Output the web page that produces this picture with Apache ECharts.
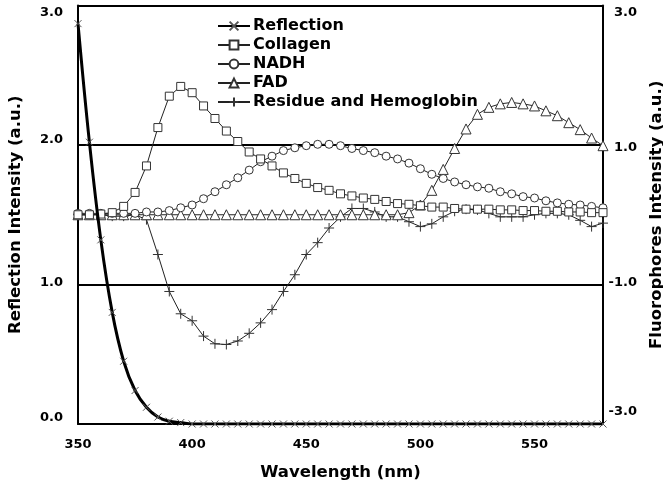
<!DOCTYPE html>
<html>
<head>
<meta charset="utf-8">
<script src="https://cdn.jsdelivr.net/npm/echarts@6/dist/echarts.min.js"></script>
<style>html,body{margin:0;padding:0;background:#fff}#c{width:663px;height:489px}</style>
</head>
<body>
<div id="c"></div>
<script>
var wavelengths = [350,355,360,365,370,375,380,385,390,395,400,405,410,415,420,425,430,435,440,445,450,455,460,465,470,475,480,485,490,495,500,505,510,515,520,525,530,535,540,545,550,555,560,565,570,575,580];
var reflection = [2.87,2.02,1.32,0.80,0.45,0.24,0.12,0.05,0.02,0.01,0,0,0,0,0,0,0,0,0,0,0,0,0,0,0,0,0,0,0,0,0,0,0,0,0,0,0,0,0,0,0,0,0,0,0,0,0];
var collagen = [0.00,0.00,0.01,0.03,0.12,0.32,0.70,1.25,1.70,1.84,1.75,1.56,1.38,1.20,1.05,0.90,0.80,0.70,0.60,0.52,0.45,0.39,0.35,0.30,0.27,0.24,0.22,0.19,0.16,0.15,0.13,0.11,0.11,0.09,0.08,0.08,0.08,0.07,0.07,0.06,0.06,0.05,0.05,0.04,0.04,0.03,0.03];
var nadh = [0.02,0.02,0.02,0.02,0.02,0.02,0.04,0.04,0.06,0.10,0.14,0.23,0.33,0.43,0.53,0.64,0.76,0.84,0.92,0.96,0.99,1.01,1.01,0.99,0.95,0.92,0.89,0.84,0.80,0.74,0.66,0.58,0.52,0.47,0.43,0.40,0.38,0.33,0.30,0.26,0.24,0.20,0.17,0.15,0.14,0.12,0.10];
var fad = [0,0,0,0,0,0,0,0,0,0,0,0,0,0,0,0,0,0,0,0,0,0,0,0,0,0,0,0,0.00,0.03,0.14,0.35,0.65,0.95,1.23,1.44,1.54,1.59,1.61,1.59,1.56,1.49,1.42,1.32,1.22,1.10,0.99];
var residue = [0.00,0.00,0.00,-0.02,-0.02,0.00,-0.07,-0.57,-1.10,-1.42,-1.52,-1.74,-1.85,-1.86,-1.81,-1.70,-1.55,-1.36,-1.10,-0.86,-0.57,-0.40,-0.19,-0.03,0.09,0.09,0.04,-0.03,-0.03,-0.10,-0.17,-0.13,-0.03,0.05,0.08,0.07,0.02,-0.03,-0.03,-0.03,0.00,0.02,0.02,0.00,-0.08,-0.17,-0.12];
var seriesNames = ['Reflection','Collagen','NADH','FAD','Residue and Hemoglobin'];
var xTicks = [350,400,450,500,550];
var leftTicks = [0,1,2,3];
var rightTicks = [-3,-1,1,3];

function pairs(vals){ return wavelengths.map(function(w,i){ return [w, vals[i]]; }); }
var WIDE = "'DejaVu Sans', sans-serif";
var PLUS = 'path://M0,5L10,5M5,0L5,10';
var CROSS = 'path://M0,0L10,10M10,0L0,10';

function tok(pad){ return {padding: pad, fontFamily: WIDE, fontWeight: 'bold', fontSize: 13, color: '#000'}; }
var labelRich = {
  d14: tok([14,0,0,0]),
  d6: tok([6,0,0,0]),
  u4: tok([0,0,4,0]),
  u10: tok([0,0,10,0]),
  u12: tok([0,0,12,0]),
  u24: tok([0,0,24,0])
};
var leftShift = {'3':'d14','2':'u10','1':'u4','0':'u12'};
var rightShift = {'3':'d14','1':'d6','-1':'u4','-3':'u24'};

var chart = echarts.init(document.getElementById('c'), null, {renderer:'canvas'});
function fluo(name, vals, symbol, size, z){
  return {
    name: name, type: 'line', yAxisIndex: 1, data: pairs(vals),
    symbol: symbol, symbolSize: size, showSymbol: true, z: z,
    lineStyle: {color:'#222', width:1},
    itemStyle: {color: (symbol.indexOf('path')===0 ? 'rgba(0,0,0,0)' : '#fff'), borderColor:'#333', borderWidth:1},
    emphasis:{disabled:true}, animation:false
  };
}
chart.setOption({
  animation: false,
  backgroundColor: '#fff',
  grid: {left: 78, right: 60, top: 5.5, bottom: 65, containLabel: false, outerBoundsMode: 'none'},
  legend: {
    orient: 'vertical', left: 212, top: 13, itemGap: 3, itemWidth: 32, itemHeight: 11,
    data: seriesNames,
    textStyle: {fontFamily: WIDE, fontWeight: 'bold', fontSize: 16, color: '#000', padding:[0,0,0,-2]}
  },
  xAxis: {
    type: 'value', min: 350, max: 580, interval: 50,
    name: 'Wavelength (nm)', nameLocation: 'middle', nameGap: 40,
    nameTextStyle: {fontFamily: WIDE, fontWeight: 'bold', fontSize: 16.5, color:'#000'},
    axisLine: {show: true, lineStyle: {color:'#000', width:2}},
    axisTick: {show: false},
    splitLine: {show: false},
    axisLabel: {fontFamily: WIDE, fontWeight:'bold', fontSize: 13, color:'#000', margin: 14,
      formatter: function(v){ return xTicks.indexOf(v) >= 0 ? String(v) : ''; }}
  },
  yAxis: [{
    type: 'value', min: 0, max: 3, interval: 1, position: 'left',
    name: 'Reflection Intensity (a.u.)', nameLocation: 'middle', nameGap: 54, nameRotate: 90,
    nameTextStyle: {fontFamily: WIDE, fontWeight: 'bold', fontSize: 16.5, color:'#000'},
    axisLine: {show: true, lineStyle: {color:'#000', width:2}},
    axisTick: {show: false},
    splitLine: {show: true, lineStyle: {color:'#000', width:2}},
    axisLabel: {fontFamily: WIDE, fontWeight:'bold', fontSize: 13, color:'#000', margin: 15, rich: labelRich,
      formatter: function(v){ return leftTicks.indexOf(v) >= 0 ? '{' + leftShift[String(v)] + '|' + v.toFixed(1) + '}' : ''; }}
  },{
    type: 'value', min: -3, max: 3, interval: 2, position: 'right',
    name: 'Fluorophores Intensity (a.u.)', nameLocation: 'middle', nameGap: 40, nameRotate: 90,
    nameTextStyle: {fontFamily: WIDE, fontWeight: 'bold', fontSize: 16.5, color:'#000'},
    axisLine: {show: true, lineStyle: {color:'#000', width:2}},
    axisTick: {show: false},
    splitLine: {show: false},
    axisLabel: {fontFamily: WIDE, fontWeight:'bold', fontSize: 13, color:'#000', margin: 34, align:'right', rich: labelRich,
      formatter: function(v){ return rightTicks.indexOf(v) >= 0 ? '{' + rightShift[String(v)] + '|' + v.toFixed(1) + '}' : ''; }}
  }],
  series: [
    {
      name: seriesNames[0], type: 'line', yAxisIndex: 0, data: pairs(reflection),
      smooth: 0.4, symbol: CROSS, symbolSize: 7, showSymbol: true, z: 10,
      lineStyle: {color:'#000', width:3},
      itemStyle: {color:'rgba(0,0,0,0)', borderColor:'#555', borderWidth:1},
      emphasis:{disabled:true}
    },
    fluo(seriesNames[1], collagen, 'rect', 8, 6),
    fluo(seriesNames[2], nadh, 'circle', 8, 5),
    fluo(seriesNames[3], fad, 'triangle', 10, 4),
    fluo(seriesNames[4], residue, PLUS, 10, 3)
  ]
});
</script>
</body>
</html>
